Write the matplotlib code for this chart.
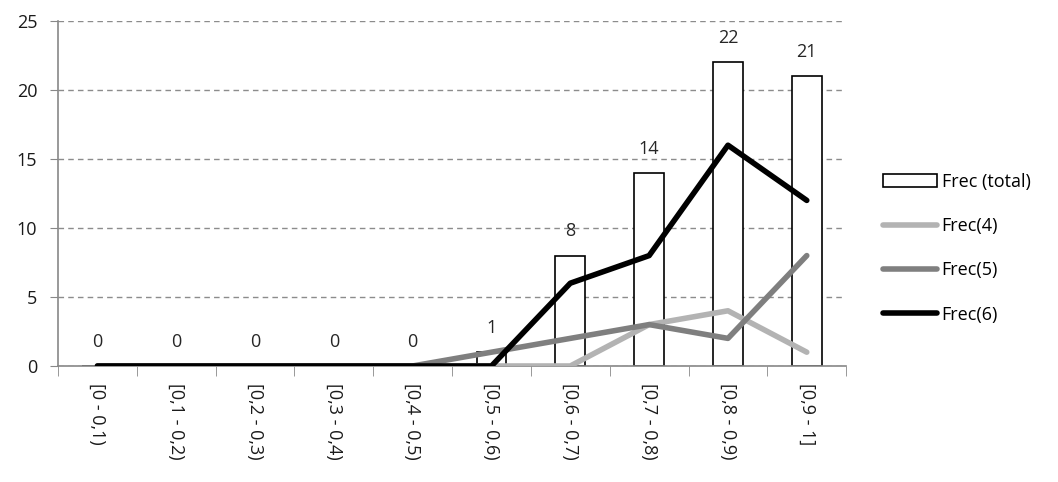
import matplotlib.pyplot as plt
import numpy as np

categories = ['[0 - 0,1)', '[0,1 - 0,2)', '[0,2 - 0,3)', '[0,3 - 0,4)',
              '[0,4 - 0,5)', '[0,5 - 0,6)', '[0,6 - 0,7)', '[0,7 - 0,8)',
              '[0,8 - 0,9)', '[0,9 - 1]']
frec_total = [0, 0, 0, 0, 0, 1, 8, 14, 22, 21]
frec4 = [0, 0, 0, 0, 0, 0, 0, 3, 4, 1]
frec5 = [0, 0, 0, 0, 0, 1, 2, 3, 2, 8]
frec6 = [0, 0, 0, 0, 0, 0, 6, 8, 16, 12]

plt.rcParams['font.family'] = ['Open Sans', 'DejaVu Sans']
fs = 13

fig = plt.figure(figsize=(10.58, 4.82), dpi=100)
ax = fig.add_axes([0.0548, 0.2407, 0.745, 0.7157])

x = np.arange(len(categories))
bars = ax.bar(x, frec_total, width=0.38, color='white', edgecolor='black',
              linewidth=1.2, label='Frec (total)', zorder=2)
l4, = ax.plot(x, frec4, color='#b3b3b3', linewidth=4, solid_capstyle='round',
              solid_joinstyle='round', label='Frec(4)', zorder=3)
l5, = ax.plot(x, frec5, color='#7f7f7f', linewidth=4, solid_capstyle='round',
              solid_joinstyle='round', label='Frec(5)', zorder=3)
l6, = ax.plot(x, frec6, color='black', linewidth=4, solid_capstyle='round',
              solid_joinstyle='round', label='Frec(6)', zorder=4)

# data labels over bars
for xi, v in zip(x, frec_total):
    ax.annotate(str(v), (xi, v), xytext=(0, 11), textcoords='offset points',
                ha='center', va='bottom', fontsize=fs, color='#262626')

ax.set_xlim(-0.5, len(categories) - 0.5)
ax.set_ylim(0, 25)
ax.set_yticks(range(0, 26, 5))
ax.yaxis.grid(True, linestyle=(0, (4, 3)), color='#8c8c8c', linewidth=1)
ax.set_axisbelow(True)

ax.set_xticks(x)
ax.set_xticklabels(categories, rotation=-90, fontsize=fs, color='#1a1a1a')
ax.set_xticks(np.arange(-0.5, len(categories)), minor=True)
ax.tick_params(axis='x', which='major', length=0, pad=12)
ax.tick_params(axis='x', which='minor', length=7, color='#888888')
ax.tick_params(axis='y', length=6, color='#888888', labelsize=fs,
               labelcolor='#1a1a1a', pad=9)

for side in ['top', 'right']:
    ax.spines[side].set_visible(False)
for side in ['left', 'bottom']:
    ax.spines[side].set_color('#888888')
    ax.spines[side].set_linewidth(1.2)

fig.legend([bars, l4, l5, l6], ['Frec (total)', 'Frec(4)', 'Frec(5)', 'Frec(6)'],
           loc='center left', bbox_to_anchor=(0.8346, 0.485), frameon=False,
           fontsize=fs, handlelength=3.0, handletextpad=0.25, labelspacing=1.45,
           borderpad=0, borderaxespad=0)

fig.savefig('out.png', dpi=100)
